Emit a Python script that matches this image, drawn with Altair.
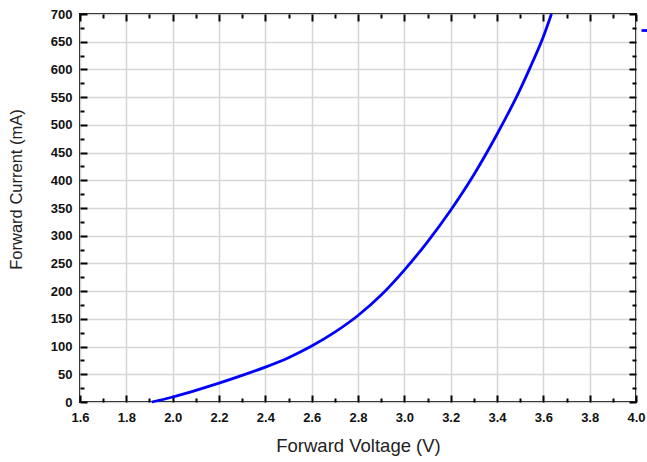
import altair as alt
import pandas as pd

# ---- data ----
voltage = [1.91, 2.0, 2.1, 2.2, 2.3, 2.4, 2.5, 2.6, 2.7, 2.8, 2.9, 3.0, 3.1, 3.2, 3.3, 3.4, 3.5, 3.55, 3.6, 3.635]
current = [0, 9, 21, 34, 48, 63, 80, 101, 126, 156, 193, 238, 289, 346, 410, 483, 564, 610, 659, 700]
series = ["IF"] * len(voltage)

x_ticks = [1.6, 1.8, 2.0, 2.2, 2.4, 2.6, 2.8, 3.0, 3.2, 3.4, 3.6, 3.8, 4.0]
x_minor = [1.6, 1.7, 1.8, 1.9, 2.0, 2.1, 2.2, 2.3, 2.4, 2.5, 2.6, 2.7, 2.8, 2.9,
           3.0, 3.1, 3.2, 3.3, 3.4, 3.5, 3.6, 3.7, 3.8, 3.9, 4.0]
y_ticks = [0, 50, 100, 150, 200, 250, 300, 350, 400, 450, 500, 550, 600, 650, 700]
y_minor = [0, 25, 50, 75, 100, 125, 150, 175, 200, 225, 250, 275, 300, 325, 350,
           375, 400, 425, 450, 475, 500, 525, 550, 575, 600, 625, 650, 675, 700]

df = pd.DataFrame({"V": voltage, "I": current, "s": series})

W, H = 556, 388
FONT = "Liberation Sans"
GRID = "#d6d6d6"

xs = alt.Scale(domain=[1.6, 4.0], nice=False, zero=False)
ys = alt.Scale(domain=[0, 700], nice=False, zero=False)

x_tick_size = {"condition": {"test": "round(datum.value*10) % 2 === 0", "value": 7}, "value": 4}
y_tick_size = {"condition": {"test": "datum.value % 50 === 0", "value": 7}, "value": 4}

base = alt.Chart(df)

main = base.mark_line(strokeWidth=2.8, interpolate="monotone").encode(
    x=alt.X("V:Q", scale=xs, axis=alt.Axis(
        orient="bottom", values=x_ticks, format=".1f", grid=True, gridColor=GRID, gridWidth=1.5,
        ticks=False, tickSize=0, domain=False, labelPadding=9, labelFlush=False,
        labelFont=FONT, labelFontSize=13, labelFontWeight="bold", labelColor="#111111",
        title="Forward Voltage (V)", titleFont=FONT, titleFontSize=18.5, titleFontWeight="normal",
        titleColor="#222222", titlePadding=12)),
    y=alt.Y("I:Q", scale=ys, axis=alt.Axis(
        orient="left", values=y_ticks, grid=True, gridColor=GRID, gridWidth=1.5,
        ticks=False, tickSize=0, domain=False, labelPadding=8,
        labelFont=FONT, labelFontSize=13, labelFontWeight="bold", labelColor="#111111",
        title="Forward Current (mA)", titleFont=FONT, titleFontSize=16.5, titleFontWeight="normal",
        titleColor="#222222", titleX=-64, titleY=175, titleBaseline="middle", titleAngle=270)),
    color=alt.Color("s:N", scale=alt.Scale(range=["#0000ff"]), legend=alt.Legend(
        orient="none", legendX=560, legendY=10, padding=0, title=None,
        symbolType="stroke", symbolStrokeWidth=2.8, symbolSize=100,
        labelFont=FONT, labelFontSize=12)),
)

# inward ticks on bottom and left (drawn by opposite-oriented axes shifted across the plot)
ticks_bl = base.mark_line(strokeOpacity=0).encode(
    x=alt.X("V:Q", scale=xs, axis=alt.Axis(
        orient="top", offset=-H, values=x_minor, labels=False, grid=False, domain=False,
        ticks=True, tickColor="#000000", tickWidth=2, tickSize=x_tick_size, title=None)),
    y=alt.Y("I:Q", scale=ys, axis=alt.Axis(
        orient="right", offset=-W, values=y_minor, labels=False, grid=False, domain=False,
        ticks=True, tickColor="#000000", tickWidth=2, tickSize=y_tick_size, title=None)),
)

# inward ticks on top and right
ticks_tr = base.mark_line(strokeOpacity=0).encode(
    x=alt.X("V:Q", scale=xs, axis=alt.Axis(
        orient="bottom", offset=-H, values=x_minor, labels=False, grid=False, domain=False,
        ticks=True, tickColor="#000000", tickWidth=2, tickSize=x_tick_size, title=None)),
    y=alt.Y("I:Q", scale=ys, axis=alt.Axis(
        orient="left", offset=-W, values=y_minor, labels=False, grid=False, domain=False,
        ticks=True, tickColor="#000000", tickWidth=2, tickSize=y_tick_size, title=None)),
)

chart = alt.layer(main, ticks_bl, ticks_tr).resolve_axis(
    x="independent", y="independent"
).properties(
    width=W, height=H,
    autosize=alt.AutoSizeParams(type="none"),
    padding={"left": 80, "top": 14, "right": 11, "bottom": 60},
    background="white",
).configure_view(stroke="#000000", strokeWidth=2)

chart.save("out.html", embed_options={"renderer": "svg", "actions": False})
